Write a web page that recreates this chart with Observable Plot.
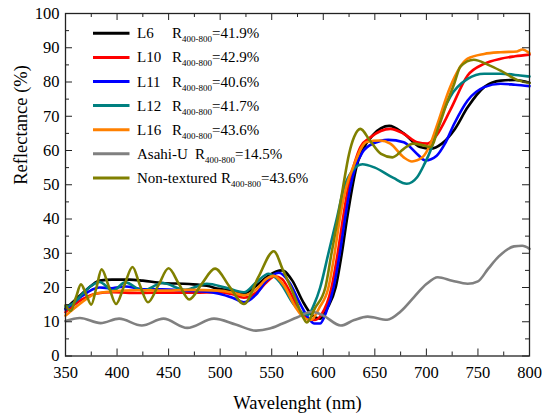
<!DOCTYPE html>
<html><head><meta charset="utf-8">
<script src="https://cdn.jsdelivr.net/npm/d3@7"></script>
<script src="https://cdn.jsdelivr.net/npm/@observablehq/plot@0.6"></script>
<style>
body{margin:0;background:#fff}
#chart{width:543px;height:417px}
#chart svg, #chart svg text, #chart svg tspan{font-family:"Liberation Serif","Times New Roman",serif !important}
</style>
</head><body><div id="chart"></div>
<script>
const L6 = [[350,13.8],[358,16],[366,18.2],[375,20.5],[383,22],[395,22.3],[412,22.3],[425,22],[444,21.3],[470,21],[487,20.5],[499,19.6],[512,19],[523,18.2],[535,20.5],[547,23.5],[560,25],[570,22],[580,16],[588,12.3],[597,10.9],[604,14],[612,20],[618,30],[623,40],[628,49],[632,55],[638,60],[648,64.5],[664,67.2],[678,65],[694,61],[704,60.5],[715,62],[727,66],[740,72.6],[756,78.5],[772,80.4],[786,80.6],[800,79.8]];
const L10 = [[350,12.8],[358,14.8],[366,16.5],[379,18.2],[396,18.6],[420,18.4],[450,18.5],[475,18.5],[499,18.6],[512,18],[523,17],[535,18.5],[545,21.5],[553,23.3],[560,22.5],[568,18.5],[576,13.8],[585,11],[592,10.5],[598,12],[608,20],[614,30],[619,40],[624,49],[630,56],[636,61],[646,63.9],[665,66.3],[678,64.9],[691,62.4],[701,62],[710,64.5],[723,71.7],[740,81.9],[756,85.3],[772,86.8],[786,87.5],[800,88]];
const L11 = [[350,13.5],[358,15.5],[366,17.5],[383,20],[395,19.8],[408,20.3],[425,19.5],[444,19.5],[470,19],[487,18.8],[499,18.2],[512,17],[523,15.7],[535,18],[545,22],[557,24.3],[567,21.5],[578,15],[587,10.5],[591,9.5],[597,9.5],[603,13],[610,20],[616,30],[621,40],[626,49],[631,55],[638,59.5],[648,62],[663,63.1],[678,62.4],[691,59],[699,57.1],[710,58.5],[718,62],[727,67.8],[740,74.6],[756,78.5],[772,79.5],[786,79.2],[800,78.8]];
const L12 = [[350,14.3],[358,15.5],[366,18],[375,20.5],[383,21.6],[396,19.1],[408,21.5],[425,19.1],[444,21.3],[466,19.3],[487,21.1],[505,20],[523,18.6],[535,21.5],[547,24],[558,21.5],[571,15.2],[580,12.5],[585,12],[591,15],[597,20],[605,30],[613,40],[620,49],[628,54],[638,56],[650,55],[668,52],[681,50.3],[691,52.2],[698,56],[704,60],[712,68],[723,75.6],[740,80.9],[756,82.4],[772,82.4],[791,81.9],[800,81.6]];
const L16 = [[350,11.8],[358,13.8],[366,15.7],[379,18.2],[396,18.9],[420,19.2],[444,19.1],[470,19.3],[499,19.1],[512,18.5],[523,17.7],[535,19.5],[545,22.5],[552,23.4],[562,20.5],[573,14.3],[582,11],[588,10.5],[596,14],[605,20],[611,30],[616,40],[622,49],[630,56],[642,62.5],[655,62.9],[665,62],[678,58],[686,56.8],[696,58],[704,62],[711,68],[723,78.5],[740,86.8],[756,88.2],[772,88.7],[788,88.9],[793,89.5],[800,88.4]];
const AsahiU = [[350,10.2],[364,11.1],[384,9.6],[402,10.9],[424,8.9],[445,10.9],[468,8.2],[494,10.9],[515,9.2],[535,7.4],[548,8],[560,9.4],[575,11.3],[589,12.9],[600,11.8],[617,8.9],[630,10.5],[643,11.5],[662,10.6],[675,13],[688,17.2],[700,21],[711,23],[725,22],[740,21.1],[750,21.8],[760,25.5],[770,29],[785,32],[793,32.2],[800,31.3]];
const NonTextured = [[350,14.8],[355,13.2],[360,17],[365,20.9],[370,18],[375,15],[380,20],[385,25.3],[392,20.3],[399,15.2],[407,20.6],[415,26],[422,20.8],[430,15.7],[440,20.6],[450,25.6],[460,21],[470,16.5],[482,21],[495,25.5],[509,20.3],[523,15.2],[537,23],[552,30.6],[561,25],[570,19],[578,13],[584,9.8],[592,14],[602,20],[608,30],[614,40],[619,49],[625,59],[630,64],[636,66.3],[645,63],[656,59],[667,58],[678,60.5],[687,62],[697,61.5],[704,61],[712,67],[720,74],[727,79.5],[733,84.5],[746,86.5],[760,85],[772,83.3],[790,80.4],[800,79.7]];

const seriesNames = ["L6","L10","L11","L12","L16","Asahi-U","Non-textured"];
const seriesData = [L6, L10, L11, L12, L16, AsahiU, NonTextured];
const seriesColors = ["#000000","#ff0000","#0000ff","#008080","#ff8000","#808080","#808000"];
const seriesR = ["41.9%","42.9%","40.6%","41.7%","43.6%","14.5%","43.6%"];
const xMajor = [350,400,450,500,550,600,650,700,750,800];
const xMinor = [375,425,475,525,575,625,675,725,775];
const yMajor = [0,10,20,30,40,50,60,70,80,90,100];
const yMinor = [5,15,25,35,45,55,65,75,85,95];

const W = 543, H = 417, mL = 65, mR = 14, mT = 13, mB = 61.5;
const innerW = W - mL - mR, innerH = H - mT - mB;
const serif = "Liberation Serif, Times New Roman, serif";

const lineMarks = seriesData.map((pts, i) =>
  Plot.line(pts, {x: d => d[0], y: d => d[1], stroke: seriesColors[i], strokeWidth: 2.6,
    curve: "monotone-x", strokeLinejoin: "round"}));

const chart = Plot.plot({
  width: W, height: H,
  marginLeft: mL, marginRight: mR, marginTop: mT, marginBottom: mB,
  style: "font-family: 'Liberation Serif', serif; color: #000; background: #fff; overflow: visible;",
  x: {domain: [350, 800], axis: null},
  y: {domain: [0, 100], axis: null},
  marks: [
    Plot.text(xMajor, {x: d => d, text: d => String(d), frameAnchor: "bottom", dy: 10, lineAnchor: "top", fontSize: 16.5, fontFamily: serif, fill: "#000"}),
    Plot.text(yMajor, {y: d => d, text: d => String(d), frameAnchor: "left", dx: -6, textAnchor: "end", lineAnchor: "middle", fontSize: 16.5, fontFamily: serif, fill: "#000"}),
    ...lineMarks,
    Plot.tickX(xMajor, {x: d => d, insetTop: innerH - 7, stroke: "#222"}),
    Plot.tickX(xMinor, {x: d => d, insetTop: innerH - 4, stroke: "#222"}),
    Plot.tickX(xMajor, {x: d => d, insetBottom: innerH - 7, stroke: "#222"}),
    Plot.tickX(xMinor, {x: d => d, insetBottom: innerH - 4, stroke: "#222"}),
    Plot.tickY(yMajor, {y: d => d, insetRight: innerW - 7, stroke: "#222"}),
    Plot.tickY(yMinor, {y: d => d, insetRight: innerW - 4, stroke: "#222"}),
    Plot.tickY(yMajor, {y: d => d, insetLeft: innerW - 7, stroke: "#222"}),
    Plot.tickY(yMinor, {y: d => d, insetLeft: innerW - 4, stroke: "#222"}),
    Plot.frame({stroke: "#222", strokeWidth: 1.3}),
    Plot.text(["Wavelenght (nm)"], {text: d => d, frameAnchor: "bottom", dy: 47, fontSize: 18.5, fontFamily: serif, lineAnchor: "middle"}),
    Plot.text(["Reflectance (%)"], {text: d => d, frameAnchor: "left", dx: -44, rotate: -90, fontSize: 18.5, fontFamily: serif, lineAnchor: "middle"})
  ]
});

// legend
const svg = d3.select(chart);
const lg = svg.append("g").attr("font-family", serif).attr("font-size", 15)
  .attr("fill", "#000").attr("text-anchor", "start");
const rX = [172, 172, 172, 172, 172, 195, 221];
seriesNames.forEach((name, i) => {
  const cy = 33.3 + i * 24.1;
  lg.append("line").attr("x1", 93).attr("x2", 129.5).attr("y1", cy).attr("y2", cy)
    .attr("stroke", seriesColors[i]).attr("stroke-width", 3);
  const t = lg.append("text").attr("x", 137).attr("y", cy + 5).attr("text-anchor", "start");
  t.append("tspan").text(name);
  t.append("tspan").attr("x", rX[i]).text("R");
  t.append("tspan").attr("font-size", 9).attr("dy", 4).text("400-800");
  t.append("tspan").attr("dy", -4).text("=" + seriesR[i]);
});

document.getElementById("chart").appendChild(chart);
</script>
</body></html>
